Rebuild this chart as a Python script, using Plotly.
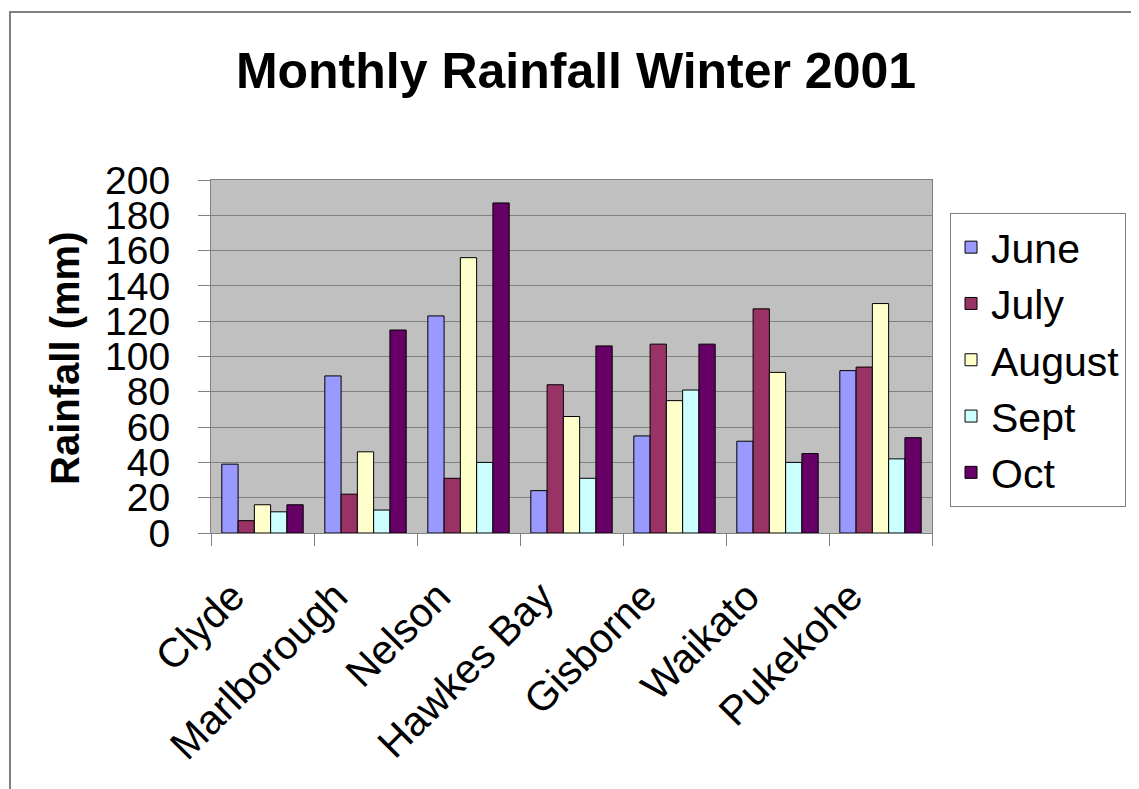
import plotly.graph_objects as go

categories = ["Clyde", "Marlborough", "Nelson", "Hawkes Bay", "Gisborne", "Waikato", "Pukekohe"]
june = [39, 89, 123, 24, 55, 52, 92]
july = [7, 22, 31, 84, 107, 127, 94]
august = [16, 46, 156, 66, 75, 91, 130]
sept = [12, 13, 40, 31, 81, 40, 42]
october = [16, 115, 187, 106, 107, 45, 54]

series = [
    ("June", june, "#9999FF"),
    ("July", july, "#993366"),
    ("August", august, "#FFFFCC"),
    ("Sept", sept, "#CCFFFF"),
    ("Oct", october, "#660066"),
]

FONT = "Liberation Sans, Arial, sans-serif"

fig = go.Figure()
for i, (name, vals, col) in enumerate(series):
    fig.add_trace(go.Bar(
        x=categories, y=vals, name=name, legendgroup=name,
        marker=dict(color=col, line=dict(color="#000000", width=1)),
    ))

W, H = 1131, 781
fig.update_layout(
    width=W, height=H,
    margin=dict(l=203, r=207, t=172, b=256, autoexpand=False),
    paper_bgcolor="white",
    plot_bgcolor="#C0C0C0",
    barmode="group",
    bargap=0.21,
    bargroupgap=0,
    font=dict(family=FONT, size=40, color="black"),
    title=dict(text="<b>Monthly Rainfall Winter 2001</b>", font=dict(size=50, family=FONT),
               x=568 / W, xref="container", xanchor="center",
               y=1 - 62 / H, yref="container", yanchor="middle"),
    showlegend=True,
    legend=dict(x=1.025, y=0.9065, xanchor="left", yanchor="top",
                bordercolor="#808080", borderwidth=1, bgcolor="white",
                font=dict(size=41, family=FONT), tracegroupgap=0),
    xaxis=dict(type="category", showline=True, linecolor="#808080", linewidth=1, mirror=True,
               ticks="outside", tickson="boundaries", ticklen=12, tickcolor="#808080",
               tickangle=-45, tickfont=dict(size=41), showgrid=False,
               ticklabelshift=-30, ticklabelstandoff=22),
    yaxis=dict(range=[0, 200], dtick=20, showline=True, linecolor="#808080", linewidth=1, mirror=True,
               ticks="outside", ticklen=12, tickcolor="#808080",
               gridcolor="#808080", gridwidth=1, tickfont=dict(size=39),
               ticklabelstandoff=20, zeroline=False),
    shapes=[dict(type="rect", xref="paper", yref="paper",
                 x0=-0.2788, x1=1.4, y0=-0.9, y1=1.476,
                 line=dict(color="#808080", width=2), fillcolor="rgba(0,0,0,0)", layer="below")],
    annotations=[dict(text="<b>Rainfall (mm)</b>", textangle=-90, xref="paper", yref="paper",
                      x=-0.2025, y=0.496, xanchor="center", yanchor="middle", showarrow=False,
                      font=dict(size=40, family=FONT))],
)

fig.write_html("out.html")
